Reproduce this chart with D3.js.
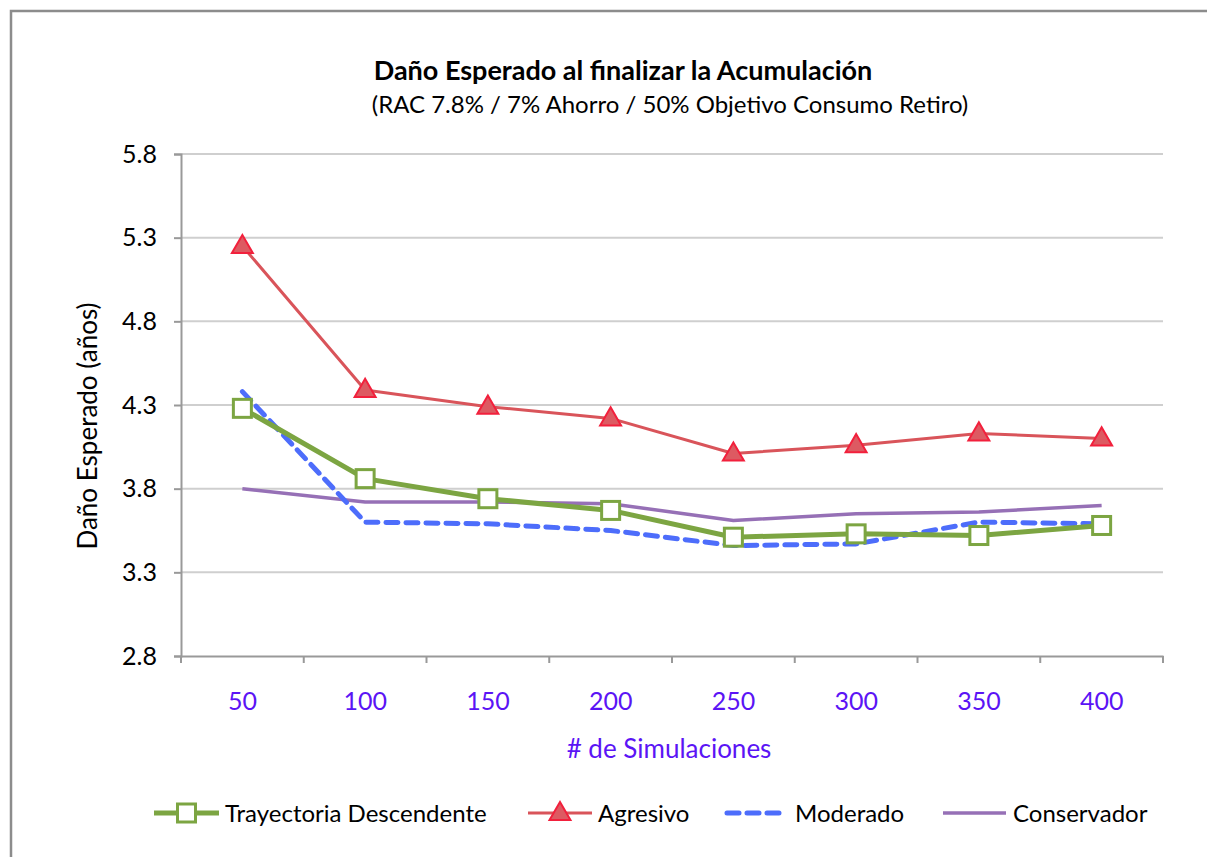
<!DOCTYPE html>
<html>
<head>
<meta charset="utf-8">
<style>
  body { margin: 0; background: #fff; }
  svg text { font-family: Lato, "Open Sans", sans-serif; }
</style>
</head>
<body>
<svg id="chart" width="1207" height="857"></svg>
<script src="https://d3js.org/d3.v7.min.js"></script>
<script>
const categories = ["50", "100", "150", "200", "250", "300", "350", "400"];
const yTicks = [2.8, 3.3, 3.8, 4.3, 4.8, 5.3, 5.8];

const trayectoria = [4.28, 3.86, 3.74, 3.67, 3.51, 3.53, 3.52, 3.58];
const agresivo    = [5.25, 4.39, 4.29, 4.22, 4.01, 4.06, 4.13, 4.10];
const moderado    = [4.38, 3.60, 3.59, 3.55, 3.46, 3.47, 3.60, 3.59];
const conservador = [3.80, 3.72, 3.72, 3.71, 3.61, 3.65, 3.66, 3.70];

const series = [
  { name: "Trayectoria Descendente", values: trayectoria, color: "#7ca542", width: 5, marker: "square" },
  { name: "Agresivo", values: agresivo, color: "#d9545a", width: 3, marker: "triangle" },
  { name: "Moderado", values: moderado, color: "#4d6dfb", width: 5, dash: "12,8" },
  { name: "Conservador", values: conservador, color: "#9670b6", width: 3.5 }
];

const svg = d3.select("#chart");
const plotL = 181, plotR = 1163, plotT = 154, plotB = 656;

// chart frame
svg.append("path")
  .attr("d", "M11,1000 L11,11 L1300,11")
  .attr("fill", "none").attr("stroke", "#8c8c8c").attr("stroke-width", 2.5);

const x = d3.scaleBand().domain(categories).range([plotL, plotR]);
const y = d3.scaleLinear().domain([2.8, 5.8]).range([plotB, plotT]);

// gridlines
svg.append("g").selectAll("line").data(yTicks.slice(1)).join("line")
  .attr("x1", plotL).attr("x2", plotR)
  .attr("y1", d => y(d)).attr("y2", d => y(d))
  .attr("stroke", "#cfcfcf").attr("stroke-width", 2);

// y axis
const yAxis = svg.append("g").attr("transform", `translate(${plotL},0)`)
  .call(d3.axisLeft(y).tickValues(yTicks).tickFormat(d3.format(".1f")).tickSize(7).tickPadding(17));
yAxis.select(".domain").attr("stroke", "#999").attr("stroke-width", 2);
yAxis.selectAll(".tick line").attr("stroke", "#999").attr("stroke-width", 2);
yAxis.selectAll(".tick text").attr("font-size", 25).attr("fill", "#000");

// x axis
const xAxis = svg.append("g").attr("transform", `translate(0,${plotB})`)
  .call(d3.axisBottom(x).tickSize(0).tickPadding(36));
xAxis.select(".domain").attr("stroke", "#999").attr("stroke-width", 2);
xAxis.selectAll(".tick text").attr("font-size", 25).attr("fill", "#5b14f5");
xAxis.selectAll(".sep").data(d3.range(categories.length + 1)).join("line")
  .attr("class", "sep")
  .attr("x1", i => plotL + i * x.step()).attr("x2", i => plotL + i * x.step())
  .attr("y1", 0).attr("y2", 7)
  .attr("stroke", "#999").attr("stroke-width", 2);

// titles
svg.append("text").attr("x", 623).attr("y", 80).attr("text-anchor", "middle")
  .attr("font-size", 27).attr("font-weight", "bold").text("Daño Esperado al finalizar la Acumulación");
svg.append("text").attr("x", 670).attr("y", 113).attr("text-anchor", "middle")
  .attr("font-size", 24).text("(RAC 7.8% / 7% Ahorro / 50% Objetivo Consumo Retiro)");
svg.append("text").attr("transform", "translate(97,426) rotate(-90)").attr("text-anchor", "middle")
  .attr("font-size", 26).text("Daño Esperado (años)");
svg.append("text").attr("x", 669).attr("y", 758).attr("text-anchor", "middle")
  .attr("font-size", 26).attr("fill", "#5b14f5").text("# de Simulaciones");

const cx = i => x(categories[i]) + x.bandwidth() / 2;
const line = d3.line().x((d, i) => cx(i)).y(d => y(d));

const tri = d3.symbol().type(d3.symbolTriangle).size(190);

function drawMarker(g, s, px, py) {
  if (s.marker === "square") {
    g.append("rect").attr("x", px - 9).attr("y", py - 9).attr("width", 18).attr("height", 18)
      .attr("fill", "#fff").attr("stroke", s.color).attr("stroke-width", 3);
  } else if (s.marker === "triangle") {
    g.append("path").attr("d", tri()).attr("transform", `translate(${px},${py + 1})`)
      .attr("fill", "#dd5a62").attr("stroke", "#f2203c").attr("stroke-width", 2);
  }
}

// draw order: conservador, moderado, trayectoria, agresivo
[3, 2, 0, 1].forEach(k => {
  const s = series[k];
  const g = svg.append("g");
  g.append("path").datum(s.values).attr("d", line)
    .attr("fill", "none").attr("stroke", s.color).attr("stroke-width", s.width)
    .attr("stroke-linejoin", "round")
    .attr("stroke-dasharray", s.dash || null).attr("stroke-linecap", s.dash ? "round" : "butt");
  s.values.forEach((v, i) => drawMarker(g, s, cx(i), y(v)));
});

// legend
const legendX = [154, 528, 727, 943];
const legendW = [65, 64, 56, 63];
const legendT = [225, 598, 795, 1013];
series.forEach((s, k) => {
  const g = svg.append("g").attr("transform", `translate(${legendX[k]},813)`);
  g.append("line").attr("x1", 0).attr("x2", legendW[k]).attr("y1", 0).attr("y2", 0)
    .attr("stroke", s.color).attr("stroke-width", s.width)
    .attr("stroke-dasharray", s.dash || null).attr("stroke-linecap", s.dash ? "round" : "butt");
  drawMarker(g, s, legendW[k] / 2, 0);
  g.append("text").attr("x", legendT[k] - legendX[k]).attr("y", 9).attr("font-size", 24).text(s.name);
});
</script>
</body>
</html>
